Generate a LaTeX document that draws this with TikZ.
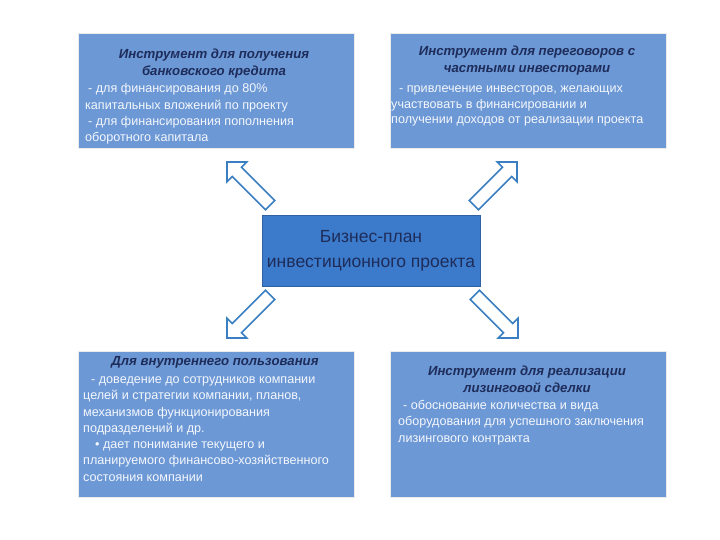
\documentclass[tikz,border=0pt]{standalone}
\usepackage{fontspec}
\setmainfont{Liberation Sans}
\definecolor{boxblue}{HTML}{6C98D6}
\definecolor{centerblue}{HTML}{3C7BCB}
\definecolor{titlenavy}{HTML}{1E2C5A}
\definecolor{bodywhite}{HTML}{F4F7FC}
\definecolor{arrowblue}{HTML}{3A7FC1}
\tikzset{
  infobox/.style={draw=black!8, line width=0.8bp, fill=boxblue, anchor=north west, inner sep=0pt},
  titletext/.style={text=titlenavy, font=\fontsize{13.2bp}{17bp}\selectfont\bfseries\itshape, align=center, anchor=north, inner sep=0pt},
  bodytext/.style={text=bodywhite, font=\fontsize{12.6bp}{16.3bp}\selectfont, align=left, anchor=north west, inner sep=0pt},
  centerbox/.style={fill=centerblue, draw=centerblue!80!black, line width=0.5bp, minimum width=218bp, minimum height=71bp, inner sep=0pt,
     text=titlenavy, font=\fontsize{17.5bp}{25bp}\selectfont, align=center},
  blockarrow/.style={draw=arrowblue, line width=1.6bp, fill=white, line join=miter}
}
% block arrow: tail at origin, pointing along +x, length 61
\newcommand{\blockarrowpath}{(0,-6.5) -- (47,-6.5) -- (47,-14) -- (61,0) -- (47,14) -- (47,6.5) -- (0,6.5) -- cycle}
\begin{document}
\begin{tikzpicture}[x=1bp,y=-1bp]
\useasboundingbox (0,0) rectangle (720,540);
% boxes
\node[infobox, minimum width=276bp, minimum height=115bp] (tl) at (78,33) {};
\node[infobox, minimum width=276bp, minimum height=115bp] (tr) at (390,33) {};
\node[infobox, minimum width=276bp, minimum height=146bp] (bl) at (78,351) {};
\node[infobox, minimum width=276bp, minimum height=146bp] (br) at (390,351) {};
\node[centerbox] (c) at (371,251) {Бизнес-план\\инвестиционного проекта};
% titles
\node[titletext] (tlt) at (214,48.5) {Инструмент для получения\\банковского кредита};
\node[titletext] (trt) at (527,45.5) {Инструмент для переговоров с\\частными инвесторами};
\node[titletext] (blt) at (215,356.5) {Для внутреннего пользования};
\node[titletext] (brt) at (527,365.5) {Инструмент для реализации\\лизинговой сделки};
% bodies
\node[bodytext] (tlb) at (85,83.5) {\hspace*{3bp}- для финансирования до 80\%\\капитальных вложений по проекту\\\hspace*{3bp}- для финансирования пополнения\\оборотного капитала};
\node[bodytext, font=\fontsize{12.6bp}{15.3bp}\selectfont] (trb) at (391,86) {\hspace*{8bp}- привлечение инвесторов, желающих\\участвовать в финансировании и\\получении доходов от реализации проекта};
\node[bodytext] (blb) at (83,376.5) {\hspace*{8bp}- доведение до сотрудников компании\\целей и стратегии компании, планов,\\механизмов функционирования\\подразделений и др.\\\hspace*{12bp}• дает понимание текущего и\\планируемого финансово-хозяйственного\\состояния компании};
\node[bodytext] (brb) at (398,400) {\hspace*{5bp}- обоснование количества и вида\\оборудования для успешного заключения\\лизингового контракта};
% arrows
\draw[blockarrow, shift={(270.1,205.1)}, rotate=135] \blockarrowpath;
\draw[blockarrow, shift={(473.9,205.1)}, rotate=45] \blockarrowpath;
\draw[blockarrow, shift={(270.1,294.9)}, rotate=225] \blockarrowpath;
\draw[blockarrow, shift={(474.9,294.9)}, rotate=315] \blockarrowpath;
\end{tikzpicture}
\end{document}
